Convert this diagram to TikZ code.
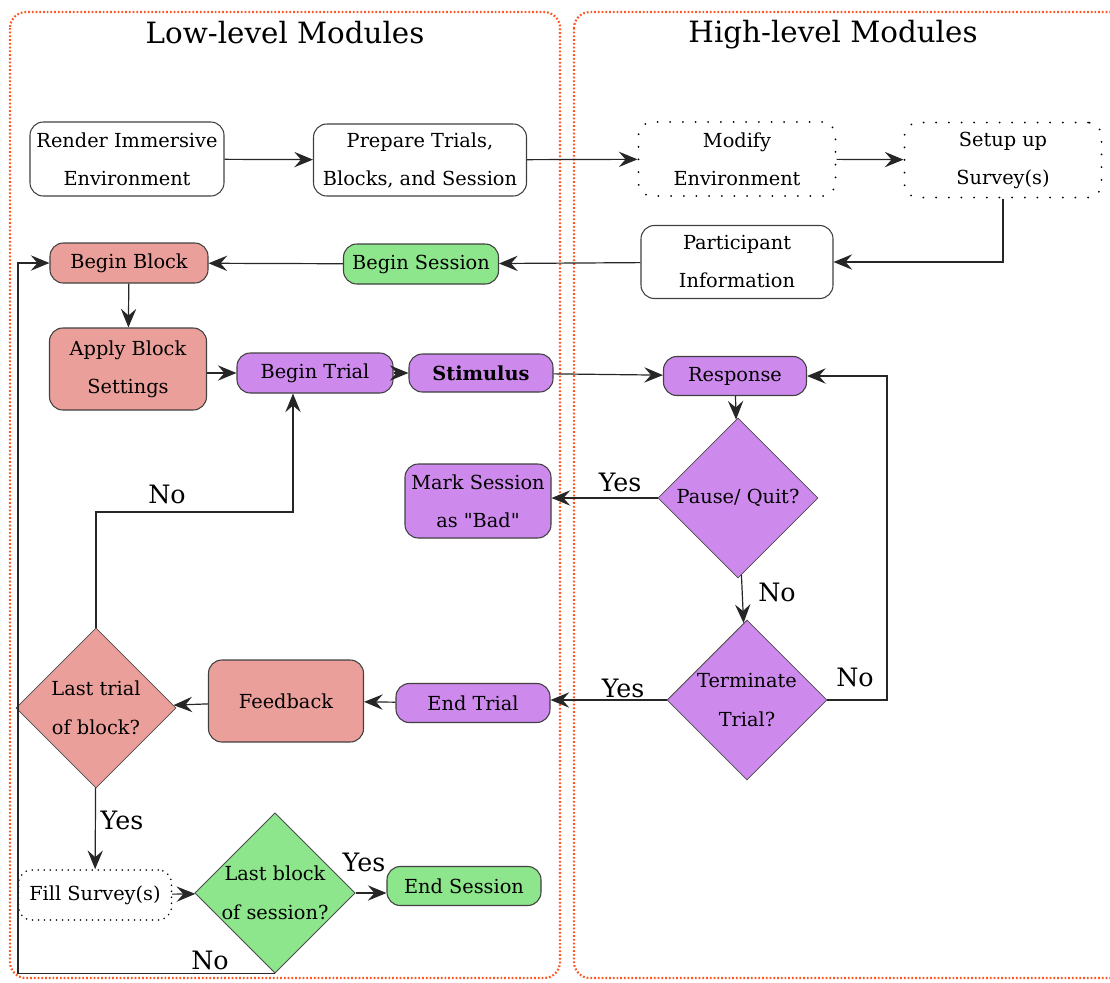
\documentclass[tikz,border=0pt]{standalone}
\usepackage{fontspec}
\setmainfont{DejaVu Serif}
\usetikzlibrary{arrows.meta,shapes.geometric,calc}
\definecolor{pinkc}{HTML}{EA9F9A}
\definecolor{greenc}{HTML}{8DE68B}
\definecolor{purplec}{HTML}{CD89EC}
\definecolor{framec}{HTML}{FF5522}
\begin{document}
\begin{tikzpicture}[x=0.75pt,y=-0.75pt,
  box/.style={draw=black!75, line width=0.8pt, rounded corners=10pt, inner sep=0pt, align=center, font=\fontsize{14.5}{28.5}\selectfont},
  sz/.style 2 args={minimum width=#1*0.75pt, minimum height=#2*0.75pt},
  dotbox/.style={box, draw=black, dash pattern=on 0pt off 9.5pt, line cap=round, line width=1.5pt},
  dia/.style={diamond, draw=black!70, line width=0.6pt, inner sep=0pt, aspect=1, minimum width=120pt, minimum height=120pt, align=center, font=\fontsize{14.5}{29}\selectfont},
  arr/.style={-{Stealth[length=14pt,width=11.5pt,inset=5pt]}, line width=0.9pt, draw=black!85},
  lbl/.style={font=\fontsize{19}{21}\selectfont, inner sep=0pt},
  titlec/.style={font=\fontsize{22}{24}\selectfont, inner sep=0pt},
  frame/.style={draw=framec, line width=1.6pt, dash pattern=on 1.3pt off 1.5pt, rounded corners=12pt}]
\useasboundingbox (0,0) rectangle (1110,982);
% frames
\draw[frame] (10,12) rectangle (560,978);
\draw[frame] (574,12) rectangle (1140,978);
\node[titlec] (tlow) at (285,33) {Low-level Modules};
\node[titlec] (thigh) at (833,35) {High-level Modules};
% nodes
\node[box, sz={194}{74}] (render) at (127,159) {Render Immersive\\Environment};
\node[box, sz={213}{72}] (prep) at (420,160) {Prepare Trials,\\Blocks, and Session};
\node[dotbox, sz={197}{74}] (modify) at (737,159) {Modify\\Environment};
\node[dotbox, sz={197}{75}] (setup) at (1003,160) {Setup up\\Survey(s)};
\node[box, sz={192}{73}] (part) at (737,262) {Participant\\Information};
\node[box, fill=greenc, sz={155}{40}] (bsess) at (421,264) {Begin Session};
\node[box, fill=pinkc, sz={158}{40}] (bblock) at (129,263) {Begin Block};
\node[box, fill=pinkc, sz={157}{82}] (apply) at (128,369) {Apply Block\\Settings};
\node[box, fill=purplec, sz={156}{40}] (btrial) at (315,373) {Begin Trial};
\node[box, fill=purplec, sz={144}{38}] (stim) at (481,373) {\textbf{Stimulus}};
\node[box, fill=purplec, sz={143}{39}] (resp) at (735,376) {Response};
\node[dia, fill=purplec] (pause) at (738,498) {Pause/ Quit?};
\node[box, fill=purplec, sz={146}{74}] (mark) at (478,501) {Mark Session\\as \textquotedbl Bad\textquotedbl};
\node[dia, fill=purplec] (term) at (747,700) {Terminate\\Trial?};
\node[box, fill=purplec, sz={154}{39}] (etrial) at (473,703) {End Trial};
\node[box, fill=pinkc, sz={155}{82}] (feed) at (286,701) {Feedback};
\node[dia, fill=pinkc] (ltrial) at (96,708) {Last trial\\of block?};
\node[box, draw=black, dash pattern=on 0pt off 4.5pt, line cap=round, line width=1.3pt, sz={153}{50}] (fill) at (95,895) {Fill Survey(s)};
\node[dia, fill=greenc] (lblock) at (275,893) {Last block\\of session?};
\node[box, fill=greenc, sz={154}{39}] (esess) at (464,886) {End Session};
% connectors
\draw[arr] (render) -- (prep);
\draw[arr] (prep) -- (modify);
\draw[arr] (modify) -- (setup);
\draw[arr] (setup.south) |- (part.east);
\draw[arr] (part) -- (bsess);
\draw[arr] (bsess) -- (bblock);
\draw[arr] (bblock) -- (apply);
\draw[arr] (apply.east |- btrial) -- (btrial);
\draw[arr] (btrial) -- (stim);
\draw[arr] (stim) -- (resp);
\draw[arr] (resp) -- (pause);
\draw[arr] (pause) -- (mark.east |- pause);
\draw[arr] (pause) -- (term);
\draw[arr] (term) -- (etrial.east |- term);
\coordinate (rt) at (887,0);
\draw[arr] (term.east) -- (term.east -| rt) |- (resp.east);
\draw[arr] (etrial) -- (feed);
\draw[arr] (feed) -- (ltrial);
\coordinate (nolevel) at (0,512);
\draw[arr] (ltrial.north) -- (ltrial.north |- nolevel) -| ($(btrial.south)+(-22,0)$);
\draw[arr] (ltrial) -- (fill);
\draw[arr] (fill) -- (lblock);
\draw[arr] (lblock) -- (esess.west |- lblock);
\coordinate (lc) at (18,0);
\draw[arr] (lblock.south) -- (lblock.south -| lc) |- (bblock.west);
% labels
\node[lbl] (y1) at (620,482) {Yes};
\node[lbl] (n1) at (777,592) {No};
\node[lbl] (y2) at (623,688) {Yes};
\node[lbl] (n2) at (855,677) {No};
\node[lbl] (n3) at (167,494) {No};
\node[lbl] (y3) at (122,820) {Yes};
\node[lbl] (y4) at (364,862) {Yes};
\node[lbl] (n4) at (210,960) {No};
\end{tikzpicture}
\end{document}
